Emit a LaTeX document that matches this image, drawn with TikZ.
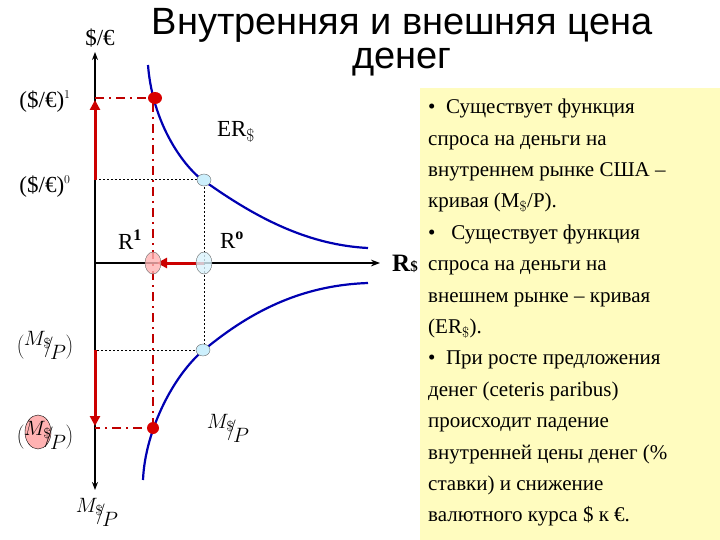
\documentclass[tikz,border=0pt]{standalone}
\usepackage{fontspec}
\setmainfont{Liberation Serif}
\newfontfamily\sansf{Liberation Sans}
\usetikzlibrary{arrows.meta}
\newcommand\myfrac{$\raisebox{7pt}{$M_{\$}$}\!\!\Big/\!\raisebox{-7pt}{$P$}$}
\begin{document}
\begin{tikzpicture}[x=1pt,y=-1pt,
  curve/.style={draw=blue!70!black,line width=2.2pt},
  reddash/.style={draw=red!75!black,line width=2pt,dash pattern=on 9pt off 5pt on 2pt off 5pt},
  blackdot/.style={draw=black,line width=1pt,dash pattern=on 2pt off 2pt},
  redarrow/.style={draw=red!80!black,line width=3pt,-{Triangle[length=10pt,width=10pt]}},
  lbl/.style={font=\fontsize{23}{25}\selectfont,inner sep=0pt},
  msp/.style={font=\fontsize{21}{22}\selectfont,inner sep=0pt}]
\useasboundingbox (0,0) rectangle (720,540);
\fill[yellow!25] (420,88) rectangle (720,540);
% axes
\draw[line width=1.5pt,-{Stealth[length=8pt]}] (95,263) -- (95,52);
\draw[line width=1.5pt,-{Stealth[length=8pt]}] (95,263) -- (95,490);
\draw[line width=1.5pt,-{Stealth[length=9pt]}] (95,263) -- (380,263);
% curves
\draw[curve] (148,65) .. controls (153,130) and (190,175) .. (210,185) .. controls (260,220) and (310,245) .. (368,248);
\draw[curve] (143,480) .. controls (145,430) and (175,370) .. (210,345) .. controls (260,305) and (310,285) .. (368,283);
% guides
\draw[blackdot] (95,180) -- (204,180) -- (204,350) -- (95,350);
\draw[reddash] (95,98) -- (153,98) -- (153,428) -- (95,428);
% arrows
\draw[redarrow] (95,180) -- (95,100);
\draw[redarrow] (95,350) -- (95,426);
\draw[redarrow] (204,263) -- (157,263);
% points
\fill[red!85!black] (155,98) ellipse (7pt and 6pt);
\fill[red!85!black] (153,428) ellipse (6pt and 6pt);
\filldraw[fill=cyan!20,draw=black!60] (204,180) ellipse (7pt and 6pt);
\filldraw[fill=cyan!20,draw=black!60] (203,350) ellipse (7pt and 6pt);
\filldraw[fill=red!30,draw=black!60,fill opacity=0.8] (153,263) ellipse (8pt and 11pt);
\filldraw[fill=cyan!15,draw=black!60,fill opacity=0.8] (204,263) ellipse (8pt and 11pt);
% labels
\node[lbl] (t1) at (402,25) {\fontsize{38}{40}\selectfont\sansf Внутренняя и внешняя цена};
\node[lbl] (t2) at (402,62) {\fontsize{38}{40}\selectfont\sansf денег};
\node[lbl] (se) at (100,38) {\$/€};
\node[lbl] (s1) at (45,102) {(\$/€)$^{\scriptscriptstyle 1}$};
\node[lbl] (s0) at (45,187) {(\$/€)$^{\scriptscriptstyle 0}$};
\node[lbl] (er) at (236,132) {ER$_{\$}$};
\node[lbl] (r1) at (130,240) {R$^{\mathbf 1}$};
\node[lbl] (r0) at (232,240) {R$^{\mathbf o}$};
\node[lbl,font=\fontsize{25}{27}\selectfont\bfseries] (rs) at (405,264) {R{\fontsize{15}{16}\selectfont\$}};
\fill[red!30,draw=black] (38,432) ellipse (13pt and 17pt);
\node[msp] (m0) at (45,345) {$\Biggl($\myfrac$\Biggr)$};
\node[msp] (m1) at (45,435) {$\Biggl($\myfrac$\Biggr)$};
\node[msp] (m2) at (97,512) {\myfrac};
\node[msp] (m3) at (228,428) {\myfrac};
\node[anchor=north west,inner sep=0pt,align=left,
  font=\fontsize{21}{31.4}\selectfont] (txt) at (428,99) {%
• \ Существует функция\\
спроса на деньги на\\
внутреннем рынке США –\\
кривая (M$_{\$}$/P).\\
• \ \ Существует функция\\
спроса на деньги на\\
внешнем рынке – кривая\\
(ER$_{\$}$).\\
• \ При росте предложения\\
денег (ceteris paribus)\\
происходит падение\\
внутренней цены денег (\%\\
ставки) и снижение\\
валютного курса \$ к €.};
\end{tikzpicture}
\end{document}
